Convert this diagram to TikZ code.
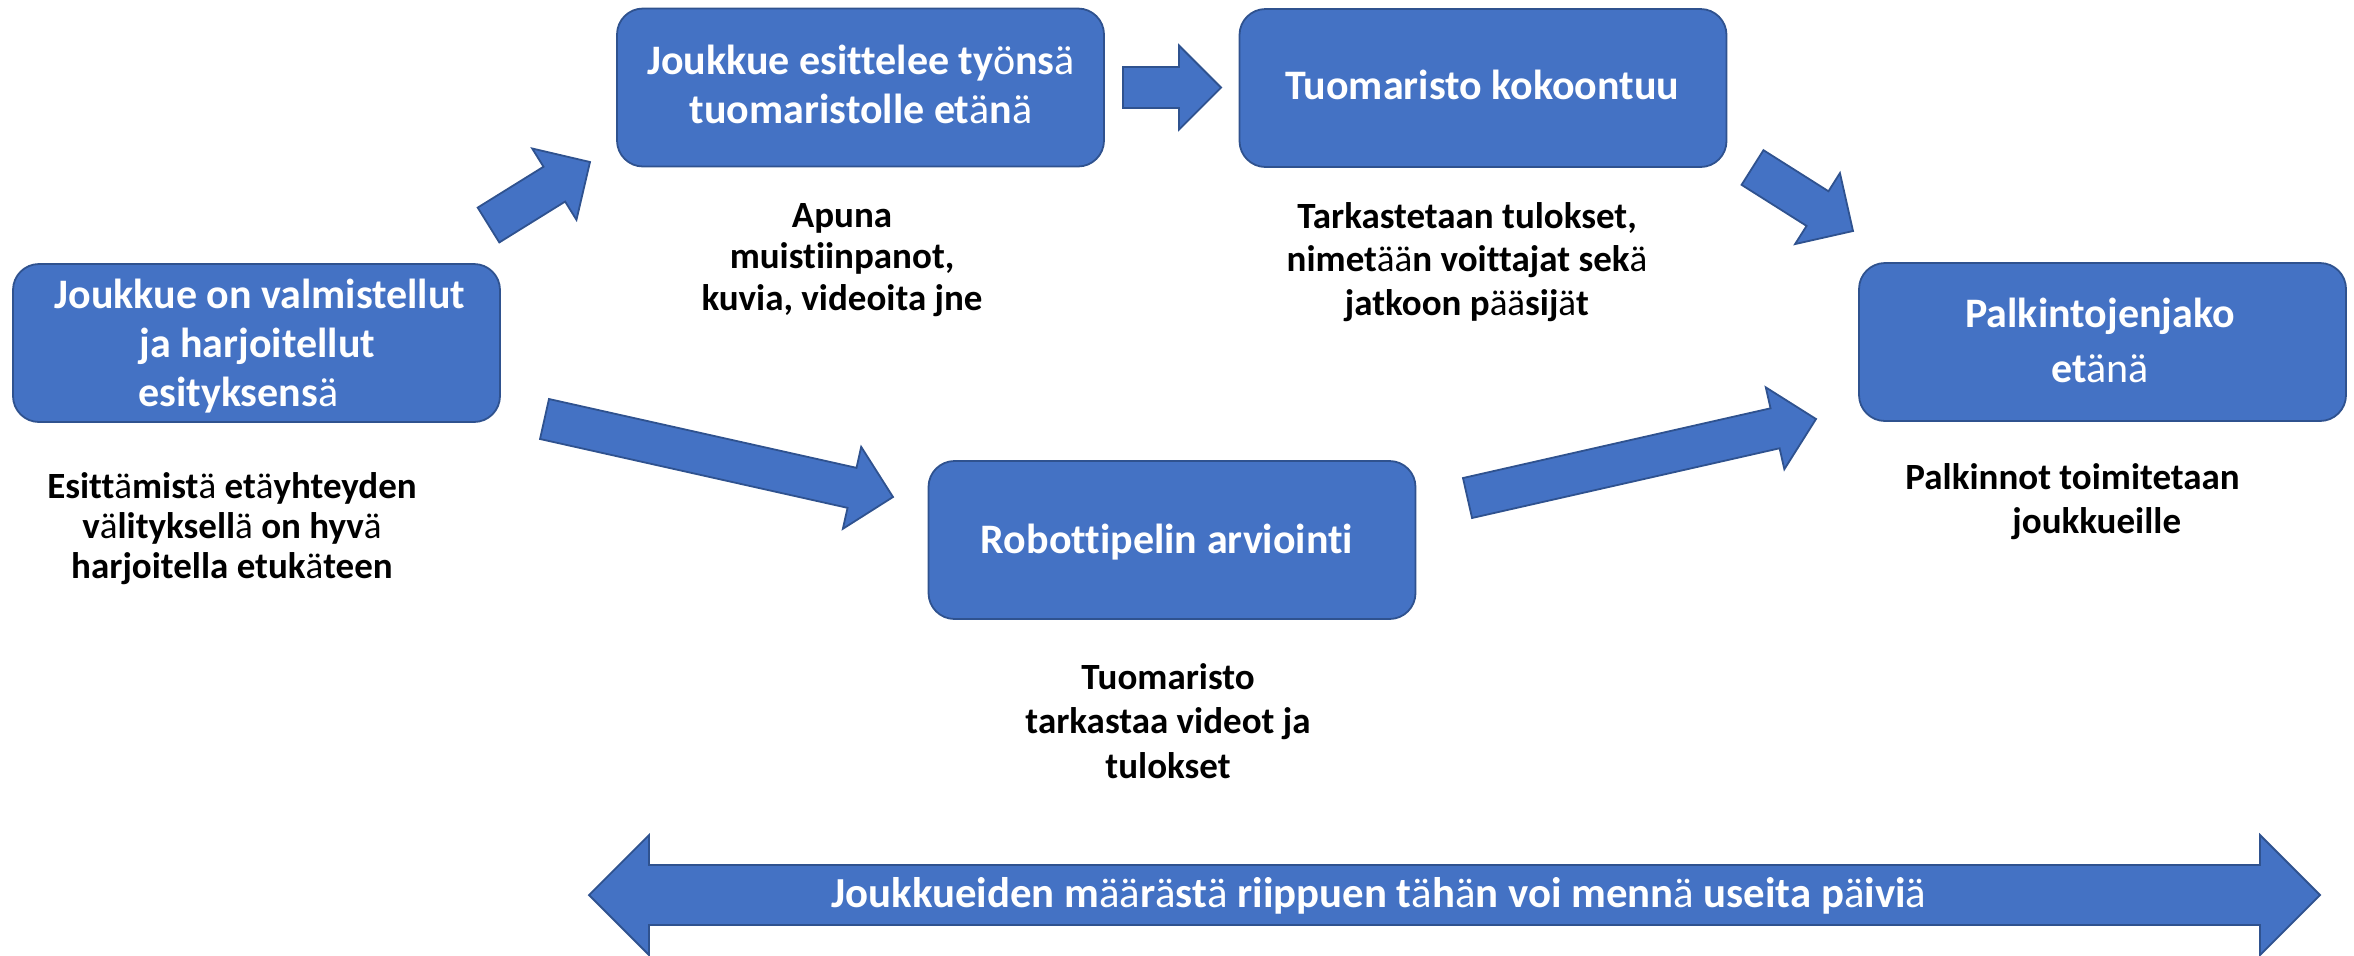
\documentclass[tikz,border=0pt]{standalone}
\usepackage{fontspec}
\setmainfont{Carlito}[Ligatures=NoCommon]
\usetikzlibrary{calc}
\definecolor{boxfill}{HTML}{4472C4}
\definecolor{boxline}{HTML}{2F528F}
\newcommand\la{{\mdseries ä}}
\newcommand\lo{{\mdseries ö}}
\newcommand\stk[1]{\begin{tabular}[t]{@{}c@{}}#1\end{tabular}}
\newcommand\blockarrow[3]{% name, tail, tip
  \coordinate (#1h) at ($(#3)!21pt!(#2)$);
  \filldraw[barrow]
    ($(#2)!10.25pt!90:(#3)$) --
    ($(#1h)!10.25pt!90:(#3)$) --
    ($(#1h)!21pt!90:(#3)$) --
    (#3) --
    ($(#1h)!21pt!-90:(#3)$) --
    ($(#1h)!10.25pt!-90:(#3)$) --
    ($(#2)!10.25pt!-90:(#3)$) -- cycle;
}
\begin{document}
\begin{tikzpicture}[x=0.5pt,y=-0.5pt,
  box/.style={draw=boxline, fill=boxfill, line width=0.9pt, rounded corners=13pt,
    minimum width=243.5pt, minimum height=79pt, inner sep=0pt},
  btext/.style={text=white, font=\fontsize{21}{24.5}\selectfont\bfseries, inner sep=0pt, anchor=base},
  ntext/.style={text=black, font=\fontsize{18.5}{20.5}\selectfont\bfseries, inner sep=0pt, anchor=base},
  barrow/.style={draw=boxline, fill=boxfill, line width=0.9pt, line join=miter}]
\useasboundingbox (0,0) rectangle (2354,955);

% boxes
\node[box] (b1) at (256.5,343) {};
\node[box] (b2) at (860.5,87.5) {};
\node[box] (b3) at (1483,88) {};
\node[box] (b4) at (1172,540) {};
\node[box] (b5) at (2102.5,342) {};

% box texts
\node[btext] (b1l1) at (260,308) {Joukkue on valmistellut};
\node[btext, anchor=base west] (b1l2) at (139,357) {ja harjoitellut};
\node[btext, anchor=base west] (b1l3) at (138,406) {esityksens\la};
\node[btext] (b2t) at (861,74) {\stk{Joukkue esittelee ty\lo ns\la\\tuomaristolle et\la n\la}};
\node[btext] (b3t) at (1482,99) {Tuomaristo kokoontuu};
\node[btext] (b4t) at (1167,553) {Robottipelin arviointi};
\node[btext, font=\fontsize{21}{27.5}\selectfont\bfseries] (b5t) at (2100,327) {\stk{Palkintojenjako\\et{\mdseries änä}}};

% notes
\node[ntext, font=\fontsize{18.5}{20}\selectfont\bfseries] (n1) at (232,498)
  {\stk{Esitt\la mist\la{} et\la yhteyden\\v\la lityksell\la{} on hyv\la\\harjoitella etuk\la teen}};
\node[ntext, font=\fontsize{18.5}{20.75}\selectfont\bfseries] (n2) at (842,227)
  {\stk{Apuna\\muistiinpanot,\\kuvia, videoita jne}};
\node[ntext, font=\fontsize{18.5}{21.75}\selectfont\bfseries] (n3) at (1467,228)
  {\stk{Tarkastetaan tulokset,\\nimet\la\la n voittajat sek\la\\jatkoon p\la\la sij\la t}};
\node[ntext, font=\fontsize{18.5}{22.25}\selectfont\bfseries] (n4) at (1168,689)
  {\stk{Tuomaristo\\tarkastaa videot ja\\tulokset}};
\node[ntext, anchor=base west] (n5a) at (1905,489) {Palkinnot toimitetaan};
\node[ntext, anchor=base west] (n5b) at (2012,533) {joukkueille};

% block arrows
\coordinate (aT) at (488.5,225);  \coordinate (aP) at (590,162);
\coordinate (bT) at (1123,87.5);  \coordinate (bP) at (1221,87.5);
\coordinate (cT) at (1752.5,167.5); \coordinate (cP) at (1853,231);
\coordinate (dT) at (544.5,419);  \coordinate (dP) at (893,497);
\coordinate (eT) at (1467.5,498); \coordinate (eP) at (1816,419);
\blockarrow{a}{aT}{aP}
\blockarrow{b}{bT}{bP}
\blockarrow{c}{cT}{cP}
\blockarrow{d}{dT}{dP}
\blockarrow{e}{eT}{eP}

% bottom double arrow
\coordinate (la) at (589,895);
\coordinate (ra) at (2320,895);
\filldraw[barrow] (la) -- ++(60,-60) -- ++(0,30) -- ($(ra)+(-60,-30)$) -- ++(0,-30) -- (ra)
  -- ++(-60,60) -- ++(0,-30) -- ($(la)+(60,30)$) -- ++(0,30) -- cycle;
\node[btext, font=\fontsize{21.4}{24.5}\selectfont\bfseries, anchor=base west] (bt) at (831,907)
  {Joukkueiden m\la\la r\la st\la{} riippuen t\la h\la n voi menn\la{} useita p\la ivi\la};
\end{tikzpicture}
\end{document}
